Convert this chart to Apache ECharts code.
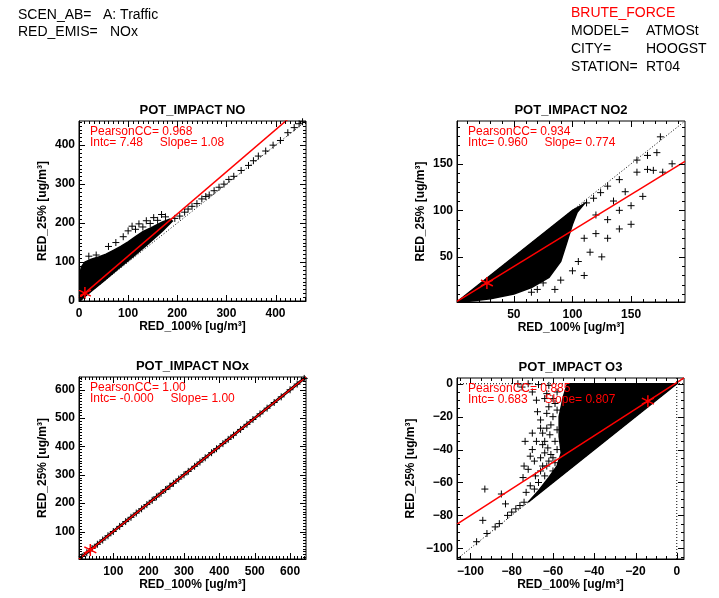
<!DOCTYPE html>
<html><head><meta charset="utf-8">
<script src="https://cdn.jsdelivr.net/npm/echarts@6/dist/echarts.min.js"></script>
<style>html,body{margin:0;padding:0;background:#fff}#chart{width:719px;height:598px}</style>
</head><body><div id="chart"></div>
<script>
// ---- run description ----
const headerLeftKeys = ['SCEN_AB=', 'RED_EMIS='];
const headerLeftVals = ['A: Traffic', 'NOx'];
const headerRightTitle = 'BRUTE_FORCE';
const headerRightKeys = ['MODEL=', 'CITY=', 'STATION='];
const headerRightVals = ['ATMOSt', 'HOOGST', 'RT04'];

// ---- per-panel statistics ----
const panelTitles = ['POT_IMPACT NO', 'POT_IMPACT NO2', 'POT_IMPACT NOx', 'POT_IMPACT O3'];
const pearsonText = ['0.968', '0.934', '1.00', '0.885'];
const intcText = ['7.48', '0.960', '-0.000', '0.683'];
const slopeText = ['1.08', '0.774', '1.00', '0.807'];
const intercepts = [7.48, 0.960, -0.000, 0.683];
const slopes = [1.08, 0.774, 1.00, 0.807];
const meanPoints = [[12, 20.4], [27, 21.9], [35, 35], [-14, -10.6]];

// ---- axis ranges and ticks (same range on x and y) ----
const axisMin = [0, 1.5, 3, -106.5];
const axisMax = [462, 196, 645, 3.5];
const majorTicks = [
  [0, 100, 200, 300, 400],
  [50, 100, 150],
  [100, 200, 300, 400, 500, 600],
  [-100, -80, -60, -40, -20, 0]
];
const minorStep = [10, 10, 10, 5];

// ---- scatter clouds: dense cores (outlines) and individual samples ----
const noCore = [[0,0],[0,35],[2,70],[5,88],[12,100],[25,107],[40,113],[55,120],[70,130],[85,140],[100,152],[115,165],[130,178],[150,190],[170,203],[185,210],[190,205],[170,180],[140,146],[110,114],[80,83],[50,51],[25,25],[8,7],[2,0]];
const noPoints = [[195,212],[205,218],[215,228],[222,236],[230,243],[240,250],[250,262],[258,268],[265,272],[275,283],[285,292],[295,300],[305,312],[315,320],[330,335],[345,348],[355,360],[365,372],[380,385],[395,400],[410,412],[425,432],[438,445],[448,455],[455,460],
  [100,180],[108,192],[115,184],[122,198],[130,190],[137,206],[145,199],[152,214],[160,207],[168,222],[176,216],[90,165],[75,150],[60,140],[20,115],[35,118]];

const no2Core = [[1.5,1.5],[60,60],[100,100],[110,107],[104,98],[100,85],[95,65],[90,45],[80,28],[65,17],[50,10],[30,5],[10,2]];
const no2Points = [[112,108],[118,113],[124,119],[130,126],[140,133],[155,154],[164,159],[172,162],[175,179],[169,143],[155,141],[164,144],[177,141],[185,150],[145,120],[135,110],[120,95],[130,90],[140,100],[150,105],[160,115],[110,70],[120,75],[130,70],[140,80],[150,85],[115,55],[125,50],[105,45],[100,35],[110,30],[90,25],[85,15],[65,12],[70,15],[75,22]];

const noxCore = [[3,1],[3,6],[640,643],[643,640]];
const noxPoints = [[12,12],[25,25],[40,40],[55,55],[70,70],[85,85],[100,100],[118,118],[135,135],[150,150],[165,165],[180,180],[195,195],[210,210],[222,222],[235,235],[248,248],[260,260],[270,270],[285,285],[300,300],[312,312],[330,330],[345,345],[360,360],[378,378],[392,392],[410,410],[425,425],[440,440],[460,460],[478,478],[495,495],[515,515],[535,535],[555,555],[575,575],[600,600],[620,620],[640,640]];

const o3Core = [[0,0],[-53,0],[-55,-8],[-57,-20],[-57,-32],[-56,-42],[-58,-50],[-62,-57],[-67,-65],[-72,-72]];
const o3Points = [[-93,-64],[-94,-83],[-85,-67],[-83,-73],[-73.5,-35],[-70,-30],[-74,-50],[-69,-47],[-66,-22],[-67.5,-17],[-61.5,-31],[-60,-20],[-62.5,-39],[-64,-42],[-74.5,-57],[-68.5,-56],[-67,-60],[-69,-64],[-72,0],[-67,-0.5],[-62,-1],[-63,-6],[-59,-12],[-61,-25],[-64,-35],[-60,-45],[-63,-50],[-66,-53],
  [-58,-5],[-60,-9],[-62,-14],[-58,-16],[-63,-18],[-58,-28],[-63,-27],[-65,-30],[-59,-35],[-65,-37],[-58,-40],[-61,-43],[-66,-45],[-59,-48],[-62,-47],[-65,-50],[-60,-53],[-64,-56],[-70,-40],[-71,-44],[-72,-52],[-66,-27],[-68,-35],[-71,-62],[-73,-66],[-68,-10],[-64,-9],[-70,-5],[-75,-2],[-77,0],
  [-97,-96],[-92,-91],[-88,-87],[-86,-85],[-82,-80],[-80,-78],[-78,-76],[-76,-74],[-74,-72]];

const cores = [noCore, no2Core, noxCore, o3Core];
const points = [noPoints, no2Points, noxPoints, o3Points];

// ---- layout ----
const FONT = '"Liberation Sans", Arial, sans-serif';
const RED = '#ff0000';
const grids = [
  {left: 79, top: 121, width: 227, height: 180},
  {left: 457, top: 121, width: 228, height: 181},
  {left: 79, top: 377, width: 227, height: 182},
  {left: 457, top: 378, width: 227, height: 181}
];
const yNameGap = [30, 30, 30, 40];
const xNameGap = [16, 16, 16, 16];
const MAJOR_LEN = 6, MINOR_LEN = 3;

const CROSS = 'path://M0,5L10,5M5,0L5,10';
const STAR = 'path://M5,0L5,10M0.67,2.5L9.33,7.5M0.67,7.5L9.33,2.5';

function minorValues(i) {
  const out = [];
  const s = minorStep[i];
  for (let v = Math.ceil(axisMin[i] / s) * s; v <= axisMax[i] + 1e-9; v += s) out.push(Math.round(v * 1000) / 1000);
  return out;
}
const fmt = v => String(v).replace('-', '\u2212');

const xAxes = [], yAxes = [], series = [], graphics = [];

function axisFor(dim, i) {
  return {
    type: 'value', gridIndex: i, min: axisMin[i], max: axisMax[i],
    position: dim === 'x' ? 'bottom' : 'left',
    splitLine: {show: false},
    axisLine: {onZero: false, lineStyle: {color: '#000', width: 1}},
    axisTick: {show: false},
    axisLabel: {customValues: majorTicks[i], formatter: fmt, color: '#000', fontFamily: FONT,
      fontWeight: 'bold', fontSize: 12, margin: dim === 'x' ? 7 : 4},
    name: dim === 'x' ? 'RED_100% [ug/m\u00b3]' : 'RED_25% [ug/m\u00b3]',
    nameLocation: 'middle',
    nameGap: dim === 'x' ? xNameGap[i] : yNameGap[i],
    nameTextStyle: {color: '#000', fontFamily: FONT, fontWeight: 'bold', fontSize: 12}
  };
}

for (let i = 0; i < 4; i++) {
  xAxes.push(axisFor('x', i));
  yAxes.push(axisFor('y', i));
  const lo = axisMin[i], hi = axisMax[i];
  const core = cores[i];
  const majors = majorTicks[i];
  const minors = minorValues(i);

  // inward ticks on all four sides of the frame
  series.push({
    type: 'custom', xAxisIndex: i, yAxisIndex: i, data: [0], silent: true, clip: false, z: 6,
    renderItem: (params, api) => {
      const kids = [];
      const px = v => Math.round(v) + 0.5;
      const add = (vals, len) => vals.forEach(v => {
        const b = api.coord([v, lo]), t = api.coord([v, hi]);
        const l = api.coord([lo, v]), r = api.coord([hi, v]);
        kids.push({type: 'line', shape: {x1: px(b[0]), y1: b[1], x2: px(b[0]), y2: b[1] - len}});
        kids.push({type: 'line', shape: {x1: px(t[0]), y1: t[1], x2: px(t[0]), y2: t[1] + len}});
        kids.push({type: 'line', shape: {x1: l[0], y1: px(l[1]), x2: l[0] + len, y2: px(l[1])}});
        kids.push({type: 'line', shape: {x1: r[0], y1: px(r[1]), x2: r[0] - len, y2: px(r[1])}});
      });
      add(minors, MINOR_LEN);
      add(majors, MAJOR_LEN);
      kids.forEach(k => { k.style = {stroke: '#000', lineWidth: 1}; });
      return {type: 'group', children: kids};
    }
  });
  // dense core of the cloud
  series.push({
    type: 'custom', xAxisIndex: i, yAxisIndex: i, data: [0], silent: true, clip: true, z: 2,
    renderItem: (params, api) => ({
      type: 'polygon',
      shape: {points: core.map(p => api.coord(p))},
      style: {fill: '#000', stroke: '#000', lineWidth: 1.5}
    })
  });
  // 1:1 reference line
  series.push({
    type: 'line', xAxisIndex: i, yAxisIndex: i, data: [[lo, lo], [hi, hi]],
    symbol: 'none', silent: true, z: 1,
    lineStyle: {color: '#000', width: 1, type: [1, 2]}
  });
  if (lo < 0 && hi > 0) {
    series.push({type: 'line', xAxisIndex: i, yAxisIndex: i, data: [[lo, 0], [hi, 0]],
      symbol: 'none', silent: true, z: 1, lineStyle: {color: '#000', width: 1, type: [1, 2]}});
    series.push({type: 'line', xAxisIndex: i, yAxisIndex: i, data: [[0, lo], [0, hi]],
      symbol: 'none', silent: true, z: 1, lineStyle: {color: '#000', width: 1, type: [1, 2]}});
  }
  // individual samples
  series.push({
    type: 'scatter', xAxisIndex: i, yAxisIndex: i, data: points[i], silent: true, z: 3,
    symbol: CROSS, symbolSize: 7,
    itemStyle: {color: 'rgba(0,0,0,0)', borderColor: '#000', borderWidth: 1, opacity: 1}
  });
  // regression fit
  series.push({
    type: 'line', xAxisIndex: i, yAxisIndex: i, symbol: 'none', silent: true, z: 4, clip: true,
    data: [[lo, intercepts[i] + slopes[i] * lo], [hi, intercepts[i] + slopes[i] * hi]],
    lineStyle: {color: RED, width: 1.5}
  });
  // mean point
  series.push({
    type: 'scatter', xAxisIndex: i, yAxisIndex: i, data: [meanPoints[i]], silent: true, z: 5,
    symbol: STAR, symbolSize: 12,
    itemStyle: {color: 'rgba(0,0,0,0)', borderColor: RED, borderWidth: 1.5, opacity: 1}
  });

  const g = grids[i];
  graphics.push({type: 'text', x: g.left + g.width / 2, y: g.top - 11, z: 10,
    style: {text: panelTitles[i], fill: '#000', font: 'bold 13px ' + FONT, textAlign: 'center', textVerticalAlign: 'middle'}});
  graphics.push({type: 'text', x: g.left + 11, y: g.top + 11, z: 10,
    style: {text: 'PearsonCC= ' + pearsonText[i], fill: RED, font: '12px ' + FONT, textVerticalAlign: 'middle'}});
  graphics.push({type: 'text', x: g.left + 11, y: g.top + 22, z: 10,
    style: {text: 'Intc= ' + intcText[i] + '     Slope= ' + slopeText[i], fill: RED, font: '12px ' + FONT, textVerticalAlign: 'middle'}});
}

// header block
const hdrFont = '14px ' + FONT;
headerLeftKeys.forEach((k, j) => {
  graphics.push({type: 'text', x: 18, y: 15 + j * 17, style: {text: k, fill: '#000', font: hdrFont, textVerticalAlign: 'middle'}});
});
graphics.push({type: 'text', x: 103, y: 15, style: {text: headerLeftVals[0], fill: '#000', font: hdrFont, textVerticalAlign: 'middle'}});
graphics.push({type: 'text', x: 110, y: 32, style: {text: headerLeftVals[1], fill: '#000', font: hdrFont, textVerticalAlign: 'middle'}});
graphics.push({type: 'text', x: 571, y: 13.5, style: {text: headerRightTitle, fill: RED, font: hdrFont, textVerticalAlign: 'middle'}});
headerRightKeys.forEach((k, j) => {
  graphics.push({type: 'text', x: 571, y: 31.5 + j * 18, style: {text: k, fill: '#000', font: hdrFont, textVerticalAlign: 'middle'}});
  graphics.push({type: 'text', x: 646, y: 31.5 + j * 18, style: {text: headerRightVals[j], fill: '#000', font: hdrFont, textVerticalAlign: 'middle'}});
});

const chart = echarts.init(document.getElementById('chart'), null, {renderer: 'canvas'});
chart.setOption({
  animation: false,
  backgroundColor: '#fff',
  grid: grids.map(g => Object.assign({show: true, borderColor: '#000', borderWidth: 1, backgroundColor: 'transparent'}, g)),
  xAxis: xAxes,
  yAxis: yAxes,
  series: series,
  graphic: graphics
});
</script></body></html>
